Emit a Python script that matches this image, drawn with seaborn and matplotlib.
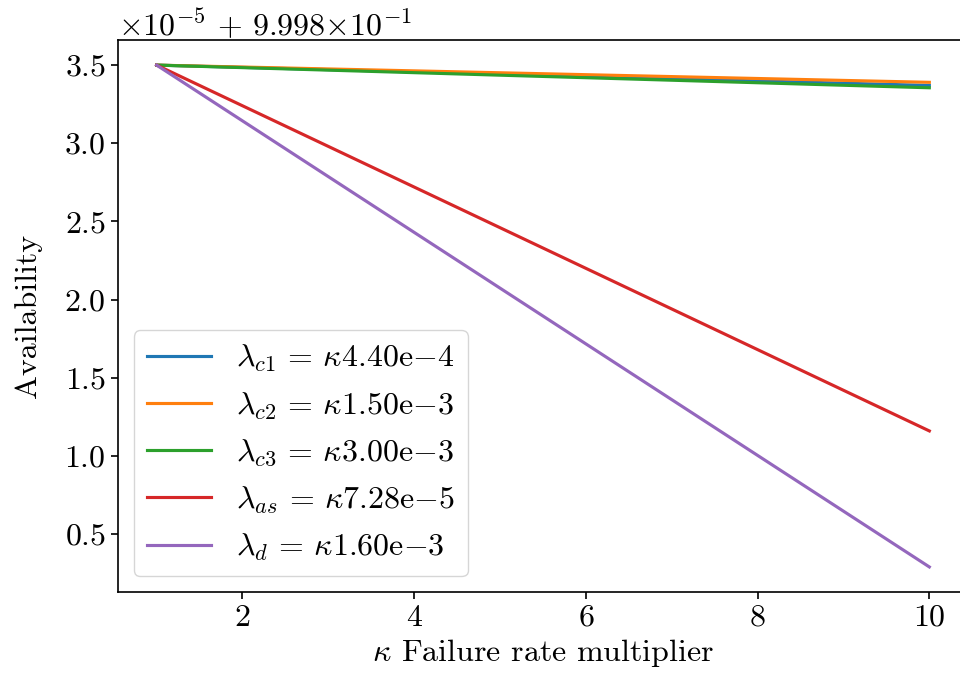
import matplotlib
matplotlib.use("Agg")
import matplotlib.pyplot as plt
import matplotlib.ticker as mticker
import numpy as np
import pandas as pd
import seaborn as sns

plt.rcParams.update({
    "font.family": "serif",
    "font.serif": ["cmr10"],
    "mathtext.fontset": "cm",
    "axes.formatter.use_mathtext": True,
    "axes.unicode_minus": True,
    "font.size": 23,
    "axes.linewidth": 1.2,
    "xtick.major.width": 1.2,
    "ytick.major.width": 1.2,
    "xtick.major.size": 5.25,
    "ytick.major.size": 5.25,
    "lines.linewidth": 2.25,
})

# failure rate multiplier at the ends of the sweep
kappa = [1, 10]

# availability for each scaled failure rate
avail_c1 = [0.999835, 0.9998337]
avail_c2 = [0.999835, 0.9998339]
avail_c3 = [0.999835, 0.99983355]
avail_as = [0.999835, 0.9998116]
avail_d = [0.999835, 0.9998029]

labels = [
    r"$\lambda_{c1} \,=\, \kappa 4.40\mathrm{e}{-}4$",
    r"$\lambda_{c2} \,=\, \kappa 1.50\mathrm{e}{-}3$",
    r"$\lambda_{c3} \,=\, \kappa 3.00\mathrm{e}{-}3$",
    r"$\lambda_{as} \,=\, \kappa 7.28\mathrm{e}{-}5$",
    r"$\lambda_{d} \,=\, \kappa 1.60\mathrm{e}{-}3$",
]
series = [avail_c1, avail_c2, avail_c3, avail_as, avail_d]

frames = []
for lab, vals in zip(labels, series):
    frames.append(pd.DataFrame({"kappa": kappa, "availability": vals, "rate": lab}))
df = pd.concat(frames, ignore_index=True)


class SpacedOffsetFormatter(mticker.ScalarFormatter):
    """ScalarFormatter whose offset string is typeset with spaced operators."""

    def get_offset(self):
        if len(self.locs) == 0 or (self.orderOfMagnitude == 0 and self.offset == 0):
            return ""
        parts = []
        if self.orderOfMagnitude:
            parts.append(r"\times10^{%d}" % self.orderOfMagnitude)
        if self.offset:
            exp = int(np.floor(np.log10(abs(self.offset))))
            mant = self.offset / 10 ** exp
            mant_s = ("%.6f" % mant).rstrip("0").rstrip(".")
            sign = "+" if self.offset > 0 else "-"
            parts.append(r"\,%s\,%s{\times}10^{%d}" % (sign, mant_s, exp))
        return "$" + "".join(parts) + "$"


fig = plt.figure(figsize=(9.6, 6.83), dpi=100)
ax = fig.add_axes([0.1229, 0.1332, 0.8854, 0.8082])

sns.lineplot(data=df, x="kappa", y="availability", hue="rate",
             hue_order=labels, palette="tab10", ax=ax, linewidth=2.25)

ax.yaxis.set_major_formatter(SpacedOffsetFormatter(useMathText=True))
ax.set_xlabel(r"$\kappa$ Failure rate multiplier")
ax.set_ylabel("Availability", labelpad=16)
ax.set_xticks([2, 4, 6, 8, 10])
ax.legend(loc="lower left", title=None)

fig.savefig("out.png", dpi=100)
